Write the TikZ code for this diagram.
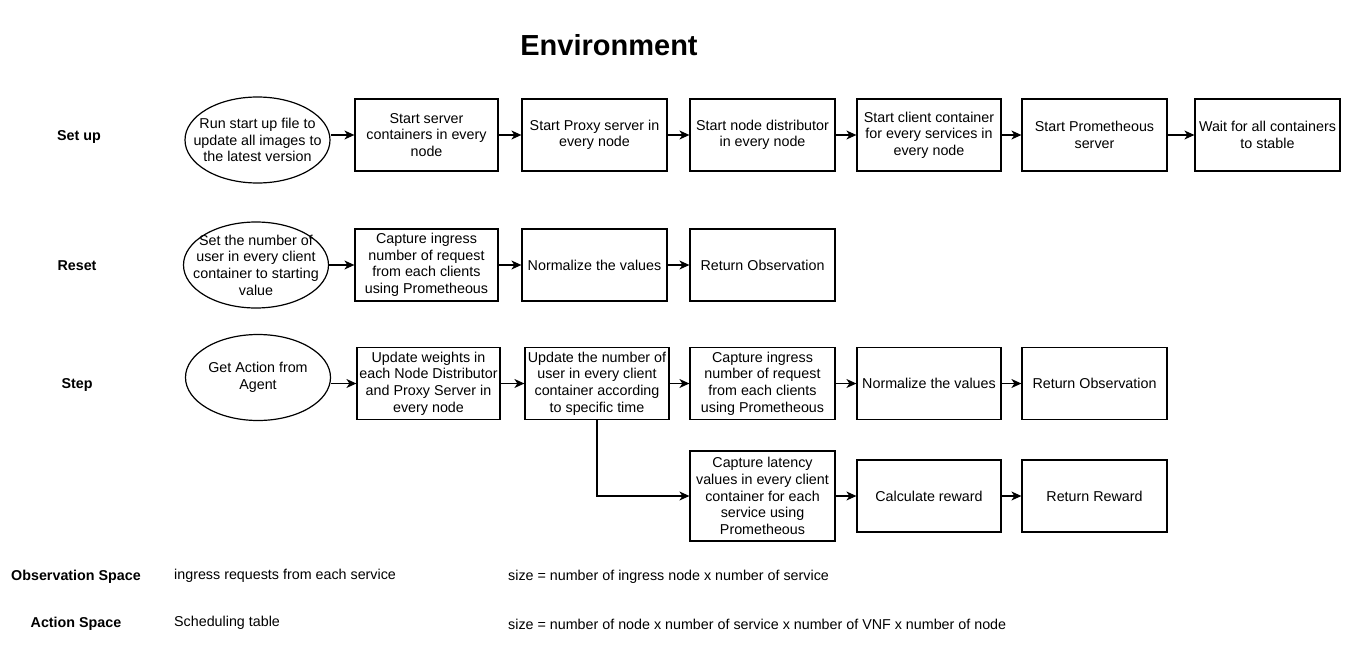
\documentclass[tikz,border=0pt]{standalone}
\usepackage{fontspec}
\setmainfont{Liberation Sans}
\usetikzlibrary{arrows.meta,shapes.geometric}
\begin{document}
\begin{tikzpicture}[x=1pt,y=-1pt,
  every node/.style={font=\fontsize{14.3}{16.6}\selectfont, align=center, inner sep=0pt},
  stepbox/.style={draw=black, line width=1.2pt, minimum height=72pt},
  oval/.style={ellipse, draw=black, line width=1.2pt, minimum width=145pt, minimum height=86pt},
  rowlabel/.style={font=\fontsize{14.3}{16.6}\selectfont\bfseries},
  plain/.style={anchor=west, font=\fontsize{14.3}{16.6}\selectfont},
  arr/.style={-{Stealth[length=10pt,width=9pt,inset=3pt]}, line width=1.2pt}]
\useasboundingbox (0,0) rectangle (1352,669);

\node[font=\fontsize{29}{34}\selectfont\bfseries] (title) at (609,45) {Environment};

% row labels
\node[rowlabel] (lsetup) at (79,136.5) {Set up};
\node[rowlabel] (lreset) at (77,266) {Reset};
\node[rowlabel] (lstep) at (77,385) {Step};

% Set up row
\node[oval] (s0) at (257.5,140) {};
\node (s0t) at (s0.center) {Run start up file to\\update all images to\\the latest version};
\node[stepbox, minimum width=143pt] (s1) at (426.5,135) {Start server\\containers in every\\node};
\node[stepbox, minimum width=145pt] (s2) at (594.5,135) {Start Proxy server in\\every node};
\node[stepbox, minimum width=145pt] (s3) at (762.5,135) {Start node distributor\\in every node};
\node[stepbox, minimum width=144pt] (s4) at (929,135) {Start client container\\for every services in\\every node};
\node[stepbox, minimum width=145pt] (s5) at (1094.5,135) {Start Prometheous\\server};
\node[stepbox, minimum width=145pt] (s6) at (1267.5,135) {Wait for all containers\\to stable};

\draw[arr] (s0.east |- s1.west) -- (s1.west);
\draw[arr] (s1) -- (s2);
\draw[arr] (s2) -- (s3);
\draw[arr] (s3) -- (s4);
\draw[arr] (s4) -- (s5);
\draw[arr] (s5) -- (s6);

% Reset row
\node[oval] (r0) at (256,265) {};
\node (r0t) at (r0.center) {Set the number of\\user in every client\\container to starting\\value};
\node[stepbox, minimum width=143pt] (r1) at (426.5,265) {Capture ingress\\number of request\\from each clients\\using Prometheous};
\node[stepbox, minimum width=145pt] (r2) at (594.5,265) {Normalize the values};
\node[stepbox, minimum width=145pt] (r3) at (762.5,265) {Return Observation};

\draw[arr] (r0) -- (r1);
\draw[arr] (r1) -- (r2);
\draw[arr] (r2) -- (r3);

% Step row
\node[oval] (t0) at (258,377.5) {};
\node (t0t) at (t0.center) {Get Action from\\Agent};
\node[stepbox, minimum width=143pt] (t1) at (428.5,383.5) {Update weights in\\each Node Distributor\\and Proxy Server in\\every node};
\node[stepbox, minimum width=144pt] (t2) at (597,383.5) {Update the number of\\user in every client\\container according\\to specific time};
\node[stepbox, minimum width=145pt] (t3) at (762.5,383.5) {Capture ingress\\number of request\\from each clients\\using Prometheous};
\node[stepbox, minimum width=144pt] (t4) at (929,383.5) {Normalize the values};
\node[stepbox, minimum width=145pt] (t5) at (1094.5,383.5) {Return Observation};

\draw[arr] (t0.east |- t1.west) -- (t1.west);
\draw[arr] (t1) -- (t2);
\draw[arr] (t2) -- (t3);
\draw[arr] (t3) -- (t4);
\draw[arr] (t4) -- (t5);

% lower branch
\node[stepbox, minimum width=145pt, minimum height=90pt] (l1) at (762.5,496) {Capture latency\\values in every client\\container for each\\service using\\Prometheous};
\node[stepbox, minimum width=144pt] (l2) at (929,496) {Calculate reward};
\node[stepbox, minimum width=145pt] (l3) at (1094.5,496) {Return Reward};

\draw[arr] (t2.south) |- (l1.west);
\draw[arr] (l1) -- (l2);
\draw[arr] (l2) -- (l3);

% spaces
\node[rowlabel] (obs) at (76,577) {Observation Space};
\node[plain] (obsd) at (174,576) {ingress requests from each service};
\node[plain] (obss) at (508,577) {size = number of ingress node x number of service};
\node[rowlabel] (act) at (76,624) {Action Space};
\node[plain] (actd) at (174,623) {Scheduling table};
\node[plain] (acts) at (508,624) {size = number of node x number of service x number of VNF x number of node};
\end{tikzpicture}
\end{document}
